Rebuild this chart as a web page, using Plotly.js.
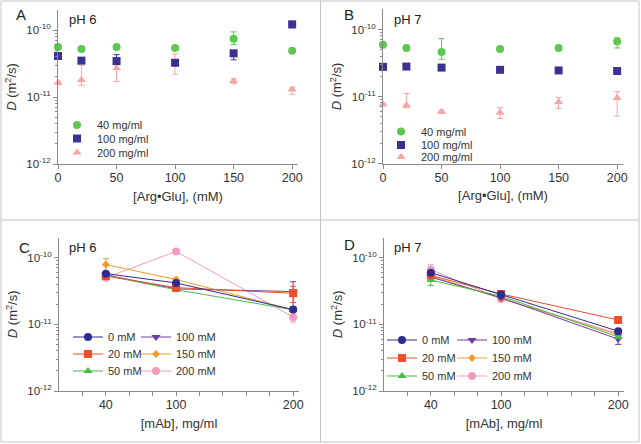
<!DOCTYPE html>
<html><head><meta charset="utf-8">
<script src="https://cdn.plot.ly/plotly-3.0.1.min.js"></script>
<style>html,body{margin:0;padding:0;background:#fff}#chart{width:641px;height:444px}</style>
</head><body><div id="chart"></div>
<script>
// ---------- DATA ----------
const argGlu = [0, 20, 50, 100, 150, 200];          // mM (panels A, B)
const mAb = [40, 100, 200];                          // mg/ml (panels C, D)
const concNames = ['40 mg/ml', '100 mg/ml', '200 mg/ml'];
const argNames = ['0 mM', '20 mM', '50 mM', '100 mM', '150 mM', '200 mM'];
const yTickVals = [1e-12, 1e-11, 1e-10];
const yTickText = ['10<sup>-12</sup>', '10<sup>-11</sup>', '10<sup>-10</sup>'];
const xTickArg = [0, 50, 100, 150, 200];
const xTickMab = [20, 40, 60, 80, 100, 120, 140, 160, 180, 200];
const xTickMabText = [' ', '40', ' ', ' ', '100', ' ', ' ', ' ', ' ', '200'];

// Panel A, pH 6
const a40 = [5.6e-11, 5.2e-11, 5.6e-11, 5.4e-11, 7.4e-11, 4.9e-11];
const a40Up = [0.2e-11, 0.2e-11, 0.2e-11, 0.2e-11, 2.0e-11, 0.2e-11];
const a40Dn = [0.2e-11, 0.2e-11, 0.2e-11, 0.2e-11, 1.3e-11, 0.2e-11];
const a100 = [4.1e-11, 3.5e-11, 3.45e-11, 3.25e-11, 4.5e-11, 1.22e-10];
const a100Up = [0.15e-11, 0.15e-11, 0.85e-11, 0.15e-11, 0.2e-11, 0.3e-11];
const a100Dn = [0.15e-11, 0.15e-11, 0.15e-11, 0.15e-11, 0.9e-11, 1.4e-11];
const a200 = [1.63e-11, 1.8e-11, 2.7e-11, 3.2e-11, 1.73e-11, 1.3e-11];
const a200Up = [0.1e-11, 1.2e-11, 0.3e-11, 1.2e-11, 0.15e-11, 0.1e-11];
const a200Dn = [0.1e-11, 0.3e-11, 1.0e-11, 1.0e-11, 0.15e-11, 0.2e-11];

// Panel B, pH 7
const b40 = [5.9e-11, 5.3e-11, 4.6e-11, 5.1e-11, 5.3e-11, 6.6e-11];
const b40Up = [0.2e-11, 0.2e-11, 2.7e-11, 0.2e-11, 0.2e-11, 0.9e-11];
const b40Dn = [0.2e-11, 0.2e-11, 1.0e-11, 0.2e-11, 0.2e-11, 1.3e-11];
const b100 = [2.77e-11, 2.8e-11, 2.7e-11, 2.5e-11, 2.45e-11, 2.4e-11];
const b100Up = [0.1e-11, 0.1e-11, 0.1e-11, 0.1e-11, 0.1e-11, 0.1e-11];
const b100Dn = [0.1e-11, 0.1e-11, 0.1e-11, 0.1e-11, 0.1e-11, 0.1e-11];
const b200 = [7.6e-12, 7.4e-12, 5.9e-12, 5.7e-12, 8.3e-12, 9.5e-12];
const b200Up = [0.3e-12, 3.7e-12, 0.3e-12, 1.1e-12, 1.4e-12, 2.3e-12];
const b200Dn = [0.3e-12, 0.6e-12, 0.3e-12, 1.0e-12, 1.7e-12, 4.4e-12];

// Panel C, pH 6 (one series per Arg•Glu concentration)
const c0 = [5.75e-11, 4.17e-11, 1.66e-11];
const c20 = [5.3e-11, 3.55e-11, 2.92e-11];
const c50 = [5.4e-11, 3.3e-11, 1.65e-11];
const c100 = [5.5e-11, 3.4e-11, 3.1e-11];
const c150 = [7.85e-11, 4.7e-11, 1.65e-11];
const c200 = [5.0e-11, 1.24e-10, 1.28e-11];
const c0Err = [0.2e-11, 0.2e-11, 0.1e-11];
const c20Err = [0.2e-11, 0.2e-11, 0.8e-11];
const c50Err = [0.2e-11, 0.2e-11, 0.1e-11];
const c100Err = [0.2e-11, 0.2e-11, 1.25e-11];
const c150Err = [1.8e-11, 0.2e-11, 0.1e-11];
const c200Err = [0.2e-11, 0.3e-11, 0.2e-11];

// Panel D, pH 7
const d0 = [5.95e-11, 2.8e-11, 7.9e-12];
const d20 = [5.4e-11, 2.85e-11, 1.16e-11];
const d50 = [4.6e-11, 2.65e-11, 6.5e-12];
const d100 = [5.1e-11, 2.5e-11, 6.0e-12];
const d150 = [5.3e-11, 2.45e-11, 7.0e-12];
const d200 = [6.6e-11, 2.4e-11, 7.3e-12];
const d0Err = [0.3e-11, 0.1e-11, 0.3e-12];
const d20Err = [0.3e-11, 0.1e-11, 0.5e-12];
const d50Err = [0.8e-11, 0.1e-11, 0.3e-12];
const d100Err = [0.3e-11, 0.1e-11, 1.0e-12];
const d150Err = [0.3e-11, 0.1e-11, 0.3e-12];
const d200Err = [1.2e-11, 0.2e-11, 0.3e-12];

// ---------- STYLE ----------
const W = 641, H = 444;
const FONT = 'Arial, "Liberation Sans", Helvetica, sans-serif';
const TXT = '#333333', AX = '#8a8a8a';
const colA = ['#5cc94e', '#3b3192', '#f5a5a2'];
const symA = ['circle', 'square', 'triangle-up'];
const colC = ['#2f2c8f', '#f04e2a', '#4dbb4a', '#6b3fa0', '#f39a2d', '#f49ac2'];
const symC = ['circle', 'square', 'triangle-up', 'triangle-down', 'diamond', 'circle'];
const sizeC = [8, 8, 8, 8, 6, 8];

const px = v => v / W, py = v => 1 - v / H;

const minorVals = [];
[1e-12, 1e-11, 1e-10].forEach(d => { for (let k = 2; k <= 9; k++) minorVals.push(k * d); });

function yAxis(bottom, top, anchor) {
  return {
    type: 'log', range: [-12, -9.7], domain: [py(bottom), py(top)], anchor: anchor,
    showline: true, linecolor: AX, linewidth: 1, showgrid: false, zeroline: false,
    ticks: 'outside', ticklen: 4, tickcolor: AX, tickmode: 'array',
    tickvals: yTickVals, ticktext: yTickText, tickfont: { size: 11.5, color: TXT },
    minor: { ticks: 'outside', ticklen: 2, tickcolor: AX, tickmode: 'array', tickvals: minorVals, showgrid: false },
    title: { text: '<i>D</i> (m<sup>2</sup>/s)', font: { size: 13, color: TXT }, standoff: 6 }
  };
}
function xAxis(left, right, anchor, tv, tt, title) {
  return {
    range: [0, 205], domain: [px(left), px(right)], anchor: anchor,
    showline: true, linecolor: AX, linewidth: 1, showgrid: false, zeroline: false,
    ticks: 'outside', ticklen: 4, tickcolor: AX, tickmode: 'array',
    tickvals: tv, ticktext: tt, tickfont: { size: 12.5, color: TXT }, ticklabelstandoff: -2,
    title: { text: title, font: { size: 13, color: TXT }, standoff: 7 }
  };
}

const traces = [];
const legends = {};
let legN = 0;
function addLegend(xLeft, yMid) {
  legN += 1;
  const key = legN === 1 ? 'legend' : 'legend' + legN;
  legends[key] = {
    x: px(xLeft), y: py(yMid), xanchor: 'left', yanchor: 'middle',
    bgcolor: 'rgba(0,0,0,0)', borderwidth: 0, font: { size: 11, color: TXT, family: FONT },
    itemclick: false, itemdoubleclick: false
  };
  return key;
}
function addTrace(x, y, up, dn, name, color, symbol, size, xa, ya, mode, leg) {
  traces.push({
    type: 'scatter', mode: mode, x: x, y: y, name: name, xaxis: xa, yaxis: ya,
    legend: leg, cliponaxis: false,
    marker: { color: color, symbol: symbol, size: size, line: { width: 0 } },
    line: { color: color, width: 1 },
    error_y: { type: 'data', array: up, arrayminus: dn, visible: true, color: color, thickness: 1, width: 3 }
  });
}

// Panel A & B (draw 200 mg/ml first so it sits beneath)
const aSeries = [[a40, a40Up, a40Dn], [a100, a100Up, a100Dn], [a200, a200Up, a200Dn]];
const bSeries = [[b40, b40Up, b40Dn], [b100, b100Up, b100Dn], [b200, b200Up, b200Dn]];
const aRows = [125, 138.5, 152.5], bRows = [131.5, 145, 157];
[2, 1, 0].forEach(i => {
  addTrace(argGlu, aSeries[i][0], aSeries[i][1], aSeries[i][2], concNames[i], colA[i], symA[i], 8, 'x', 'y', 'markers', addLegend(57, aRows[i]));
});
[2, 1, 0].forEach(i => {
  addTrace(argGlu, bSeries[i][0], bSeries[i][1], bSeries[i][2], concNames[i], colA[i], symA[i], 8, 'x2', 'y2', 'markers', addLegend(381, bRows[i]));
});
// Panel C & D
const cSeries = [[c0, c0Err], [c20, c20Err], [c50, c50Err], [c100, c100Err], [c150, c150Err], [c200, c200Err]];
const dSeries = [[d0, d0Err], [d20, d20Err], [d50, d50Err], [d100, d100Err], [d150, d150Err], [d200, d200Err]];
const cCols = [68, 136], cRows = [337, 354, 371];
const dCols = [382, 452], dRows = [340, 358, 376];
[5, 4, 3, 2, 1, 0].forEach(i => {
  const col = Math.floor(i / 3), row = i % 3;
  addTrace(mAb, cSeries[i][0], cSeries[i][1], cSeries[i][1], argNames[i], colC[i], symC[i], sizeC[i], 'x3', 'y3', 'lines+markers', addLegend(cCols[col], cRows[row]));
});
[5, 4, 3, 2, 1, 0].forEach(i => {
  const col = Math.floor(i / 3), row = i % 3;
  addTrace(mAb, dSeries[i][0], dSeries[i][1], dSeries[i][1], argNames[i], colC[i], symC[i], sizeC[i], 'x4', 'y4', 'lines+markers', addLegend(dCols[col], dRows[row]));
});

function ann(text, x, y, size) {
  return { text: text, x: px(x), y: py(y), xref: 'paper', yref: 'paper', xanchor: 'left', yanchor: 'middle',
    showarrow: false, font: { size: size, color: '#222', family: FONT } };
}
const frame = '#c4c4c4';
function ln(x0, y0, x1, y1) {
  return { type: 'line', xref: 'paper', yref: 'paper', x0: px(x0), y0: py(y0), x1: px(x1), y1: py(y1), line: { color: frame, width: 1 } };
}

const layout = Object.assign({
  width: W, height: H, margin: { l: 0, r: 0, t: 0, b: 0 },
  paper_bgcolor: '#fff', plot_bgcolor: 'rgba(0,0,0,0)',
  font: { family: FONT, color: TXT },
  showlegend: true,
  xaxis: xAxis(58, 298, 'y', xTickArg, xTickArg.map(String), '[Arg•Glu], (mM)'),
  yaxis: yAxis(164, 10, 'x'),
  xaxis2: xAxis(383, 623, 'y2', xTickArg, xTickArg.map(String), '[Arg•Glu], (mM)'),
  yaxis2: yAxis(163.5, 9.4, 'x2'),
  xaxis3: xAxis(59, 299, 'y3', xTickMab, xTickMabText, '[mAb], mg/ml'),
  yaxis3: yAxis(391, 237.6, 'x3'),
  xaxis4: xAxis(384, 624, 'y4', xTickMab, xTickMabText, '[mAb], mg/ml'),
  yaxis4: yAxis(391, 237.6, 'x4'),
  annotations: [
    ann('A', 14, 15, 15), ann('B', 342, 15, 15), ann('C', 17, 248, 15), ann('D', 342, 244, 15),
    ann('pH 6', 67, 20, 13), ann('pH 7', 392, 20, 13), ann('pH 6', 67, 247, 13), ann('pH 7', 392, 247, 13)
  ],
  shapes: [ln(1, 1, 639, 1), ln(1, 442, 639, 442), ln(1, 1, 1, 442), ln(639, 1, 639, 442), ln(320.5, 1, 320.5, 442), ln(1, 220, 639, 220)]
}, legends);

Plotly.newPlot('chart', traces, layout, { staticPlot: true, displayModeBar: false });
</script></body></html>
